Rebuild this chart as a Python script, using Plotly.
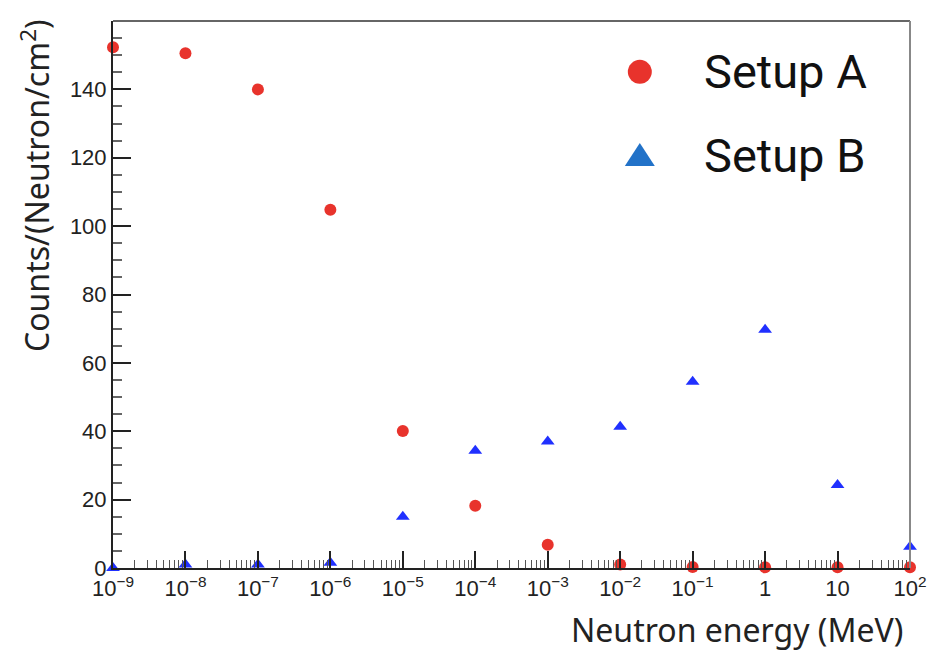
import plotly.graph_objects as go

energy = [1e-9, 1e-8, 1e-7, 1e-6, 1e-5, 1e-4, 1e-3, 1e-2, 1e-1, 1, 10, 100]
setup_a = [152.3, 150.6, 140.0, 104.8, 40.1, 18.2, 6.8, 1.0, 0.3, 0.2, 0.2, 0.2]
setup_b = [0.0, 1.0, 1.0, 1.5, 15.0, 34.3, 37.0, 41.3, 54.5, 69.7, 24.3, 6.2]

x_tickvals = [1e-9, 1e-8, 1e-7, 1e-6, 1e-5, 1e-4, 1e-3, 1e-2, 1e-1, 1, 10, 100]
x_ticktext = ["10<sup>−9</sup>", "10<sup>−8</sup>", "10<sup>−7</sup>", "10<sup>−6</sup>",
              "10<sup>−5</sup>", "10<sup>−4</sup>", "10<sup>−3</sup>", "10<sup>−2</sup>",
              "10<sup>−1</sup>", "1", "10", "10<sup>2</sup>"]
y_tickvals = [0, 20, 40, 60, 80, 100, 120, 140]

minor_x = [m * 10.0 ** e for e in range(-9, 2) for m in range(2, 10)]

RED = "#e8332c"
BLUE = "#2030ff"
LEG_BLUE = "#2272c8"

fig = go.Figure()
fig.add_trace(go.Scatter(x=energy, y=setup_a, mode="markers", name="Setup A",
                         marker=dict(symbol="circle", size=12, color=RED),
                         cliponaxis=False, showlegend=False))
fig.add_trace(go.Scatter(x=energy, y=setup_b, mode="markers", name="Setup B",
                         marker=dict(symbol="triangle-up", size=12, color=BLUE),
                         cliponaxis=False, showlegend=False))

tickfont = dict(family="Liberation Sans, Arial, sans-serif", size=22, color="#222")

fig.update_xaxes(type="log", range=[-9, 2], tickmode="array", tickvals=x_tickvals,
                 ticktext=x_ticktext, ticks="inside", ticklen=17, tickwidth=1.5,
                 tickcolor="#222", showline=True, linecolor="#222", linewidth=2,
                 showgrid=False, zeroline=False, tickfont=tickfont, automargin=False,
                 minor=dict(tickmode="array", tickvals=minor_x, ticks="inside",
                            ticklen=8, tickcolor="#555", tickwidth=1.2, showgrid=False))
fig.update_yaxes(range=[0, 160], tickmode="array", tickvals=y_tickvals,
                 ticks="inside", ticklen=18, tickwidth=1.5, tickcolor="#222",
                 showline=True, linecolor="#222", linewidth=2, showgrid=False,
                 zeroline=False, tickfont=tickfont, automargin=False,
                 minor=dict(dtick=5, ticks="inside", ticklen=9, tickcolor="#666",
                            tickwidth=1.5, showgrid=False))

# frame top/right
fig.add_shape(type="line", xref="paper", yref="paper", x0=0, x1=1, y0=1, y1=1,
              line=dict(color="#666", width=2))
fig.add_shape(type="line", xref="paper", yref="paper", x0=1, x1=1, y0=0, y1=1,
              line=dict(color="#888", width=2))

# legend
fig.add_shape(type="circle", xref="paper", yref="paper",
              x0=0.661 - 12 / 797, x1=0.661 + 12 / 797,
              y0=0.907 - 12 / 547, y1=0.907 + 12 / 547,
              fillcolor=RED, line=dict(width=0))
fig.add_shape(type="path", xref="paper", yref="paper",
              path="M {:.4f} {:.4f} L {:.4f} {:.4f} L {:.4f} {:.4f} Z".format(
                  0.661 - 15 / 797, 0.755 - 11 / 547,
                  0.661 + 15 / 797, 0.755 - 11 / 547,
                  0.661, 0.755 + 12 / 547),
              fillcolor=LEG_BLUE, line=dict(width=0))
legfont = dict(family="Roboto, sans-serif", size=47, color="#111")
fig.add_annotation(text="Setup A", xref="paper", yref="paper", x=0.739, y=0.907,
                   xanchor="left", yanchor="middle", showarrow=False, font=legfont)
fig.add_annotation(text="Setup B", xref="paper", yref="paper", x=0.739, y=0.755,
                   xanchor="left", yanchor="middle", showarrow=False, font=legfont)

titlefont = dict(family="Noto Sans, sans-serif", size=32, color="#222")
fig.add_annotation(text="Counts/(Neutron/cm<sup>2</sup>)", xref="paper", yref="paper",
                   x=-0.098, y=0.70, xanchor="center", yanchor="middle",
                   textangle=-90, showarrow=False, font=titlefont)
fig.add_annotation(text="Neutron energy (MeV)", xref="paper", yref="paper",
                   x=0.994, y=-0.113, xanchor="right", yanchor="middle",
                   showarrow=False, font=titlefont)

fig.update_layout(width=930, height=650, margin=dict(l=113, r=20, t=21, b=82),
                  plot_bgcolor="white", paper_bgcolor="white", showlegend=False)

fig.write_html("out.html")
